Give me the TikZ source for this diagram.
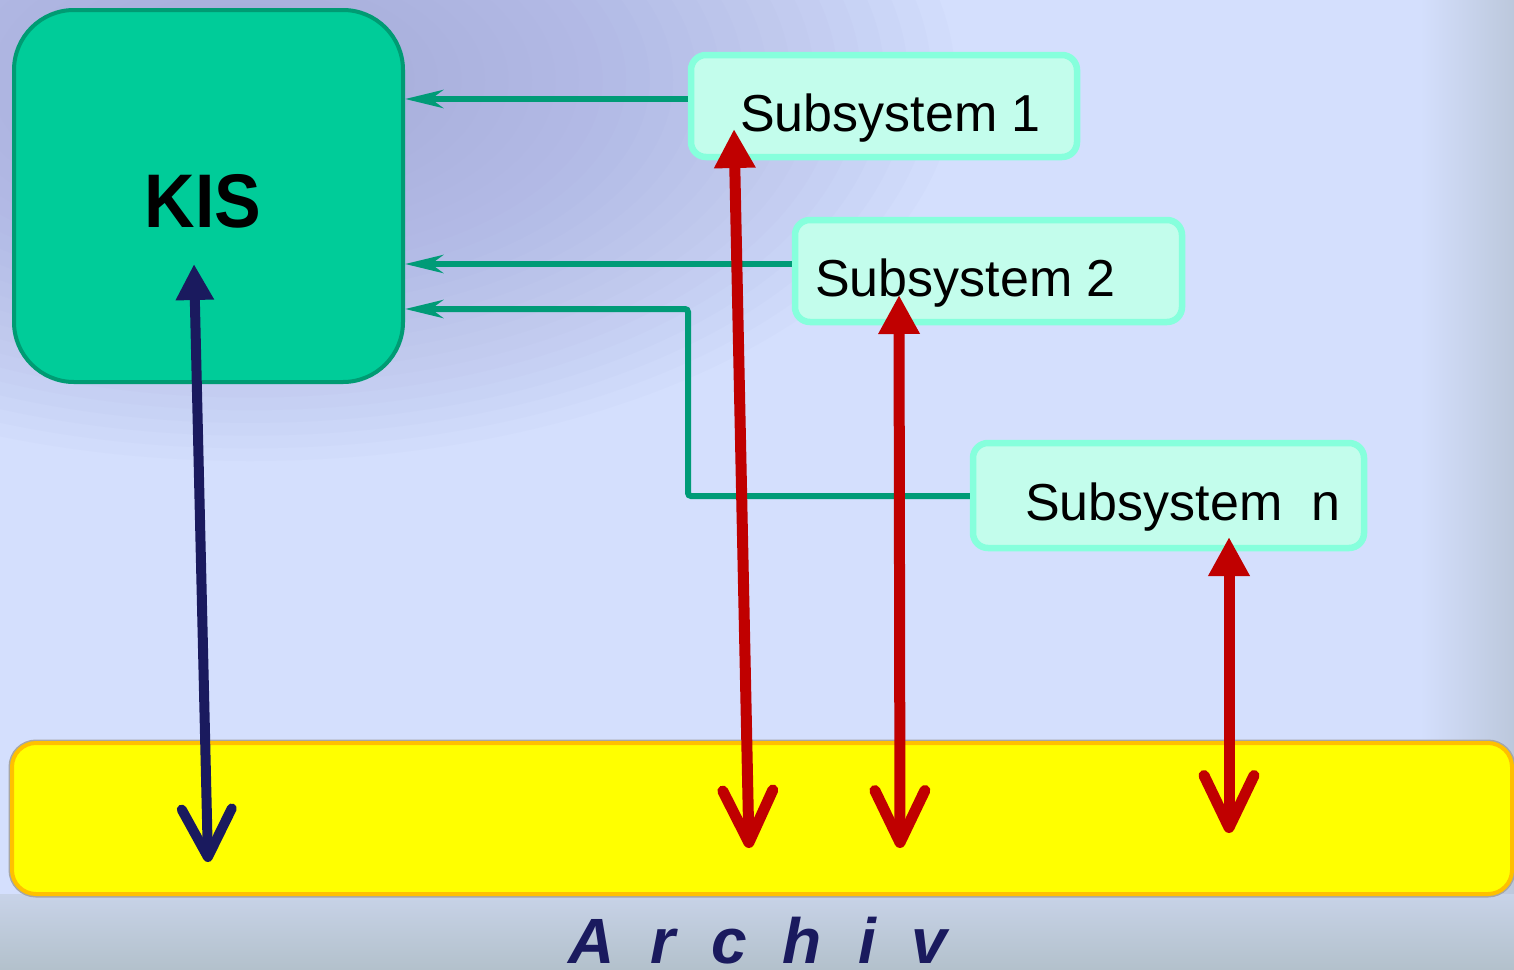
\documentclass[tikz,border=0pt]{standalone}
\usepackage{graphicx}
\usepackage{fontspec}
\setmainfont{Liberation Sans}
\usetikzlibrary{arrows.meta,calc}

\definecolor{bgmain}{HTML}{D4DFFD}
\definecolor{bglav}{HTML}{A2A6DA}
\definecolor{bgfoottop}{HTML}{C8D3E8}
\definecolor{bgfoot}{HTML}{B3C1CC}
\definecolor{bgedge}{HTML}{BCC8DC}
\definecolor{kisfill}{HTML}{00CC99}
\definecolor{kisline}{HTML}{009B73}
\definecolor{subfill}{HTML}{C3FDEC}
\definecolor{subline}{HTML}{86FFDC}
\definecolor{linkgreen}{HTML}{009B77}
\definecolor{navy}{HTML}{1A1A5E}
\definecolor{darkred}{HTML}{C00000}
\definecolor{archfill}{HTML}{FFFF00}
\definecolor{archline}{HTML}{FFC000}

\begin{document}
\begin{tikzpicture}[x=1pt,y=-1pt,
  kisbox/.style={draw=kisline, line width=4pt, fill=kisfill, rounded corners=60pt,
    minimum width=389pt, minimum height=372pt, inner sep=0pt},
  subbox/.style={draw=subline, line width=6.5pt, fill=subfill, rounded corners=15pt, inner sep=0pt},
  subtext/.style={anchor=base west, inner sep=0pt, font=\fontsize{52pt}{60pt}\selectfont},
  archbox/.style={draw=archline, line width=4pt, fill=archfill, rounded corners=24pt, inner sep=0pt,
    preaction={draw=black!35, line width=7pt}},
  feed/.style={draw=linkgreen, line width=6pt, -{Stealth[length=38pt,width=18pt,inset=12pt]}},
  navylink/.style={draw=navy, line width=10pt,
    {Straight Barb[length=48pt,width=50pt,round]}-{Triangle[length=36pt,width=36pt]}},
  redlink/.style={draw=darkred, line width=11pt,
    {Straight Barb[length=52pt,width=50pt,round]}-{Triangle[length=39pt,width=39pt]}},
  glow/.style={fill=bglav, fill opacity=0.05},
]
\useasboundingbox (0,0) rectangle (1514,969);

% background: light blue with a lavender glow in the upper left
\begin{scope}
  \clip (0,0) rectangle (1514,969);
  \fill[bgmain] (0,0) rectangle (1514,969);
  \foreach \k in {1,...,30}
    \fill[glow] (250,80) ellipse [x radius=23.5*\k, y radius=12.7*\k];
  \shade[left color=bgmain, right color=bgedge] (1420,0) rectangle (1514,969);
  \shade[top color=bgfoottop, bottom color=bgfoot] (0,894) rectangle (1514,969);
\end{scope}

% archive bar
\node[archbox, minimum width=1500pt, minimum height=151pt] (arch) at (762,818.5) {};

% KIS block
\node[kisbox] (kis) at (208.5,196) {};
\node[anchor=base, inner sep=0pt, font=\fontsize{76pt}{80pt}\selectfont\bfseries] (kislabel) at (203,227) {\scalebox{0.92}[1]{KIS}};

% subsystems
\node[subbox, minimum width=386pt, minimum height=102pt] (s1) at (884,106) {};
\node[subbox, minimum width=387pt, minimum height=102pt] (s2) at (988.5,271) {};
\node[subbox, minimum width=391pt, minimum height=105pt] (sn) at (1168.5,495.5) {};

% feedback lines into KIS
\coordinate (f1) at (0,99);
\coordinate (f2) at (0,264);
\coordinate (f3) at (0,309);
\coordinate (fn) at (0,496);
\coordinate (bend) at (688,0);
\draw[feed] (s1.west |- f1) -- (kis.east |- f1);
\draw[feed] (s2.west |- f2) -- (kis.east |- f2);
\draw[feed, rounded corners=3pt] (sn.west |- fn) -- (bend |- fn) -- (bend |- f3) -- (kis.east |- f3);

% subsystem labels
\node[subtext] (t1) at (740,131) {Subsystem 1};
\node[subtext] (t2) at (815,296) {Subsystem 2};
\node[subtext] (tn) at (1025,520) {Subsystem\ \ n};

% archive label
\node[anchor=base west, inner sep=0pt, text=navy, font=\fontsize{64pt}{70pt}\selectfont\bfseries\itshape] (archlabel) at (568,963)
  {\spaceskip=36pt A r c h i v};

% data exchange with the archive
\coordinate (kt) at (194,264);
\coordinate (kb) at (208,862);
\coordinate (r1t) at (734,129);
\coordinate (r1b) at (749,848);
\coordinate (r2t) at (899,295);
\coordinate (r2b) at (900,848);
\coordinate (rnt) at (1229,537);
\coordinate (rnb) at (1229,833);
\draw[navylink] (kb) -- (kt);
\draw[redlink] (r1b) -- (r1t);
\draw[redlink] (r2b) -- (r2t);
\draw[redlink] (rnb) -- (rnt);
\end{tikzpicture}
\end{document}
